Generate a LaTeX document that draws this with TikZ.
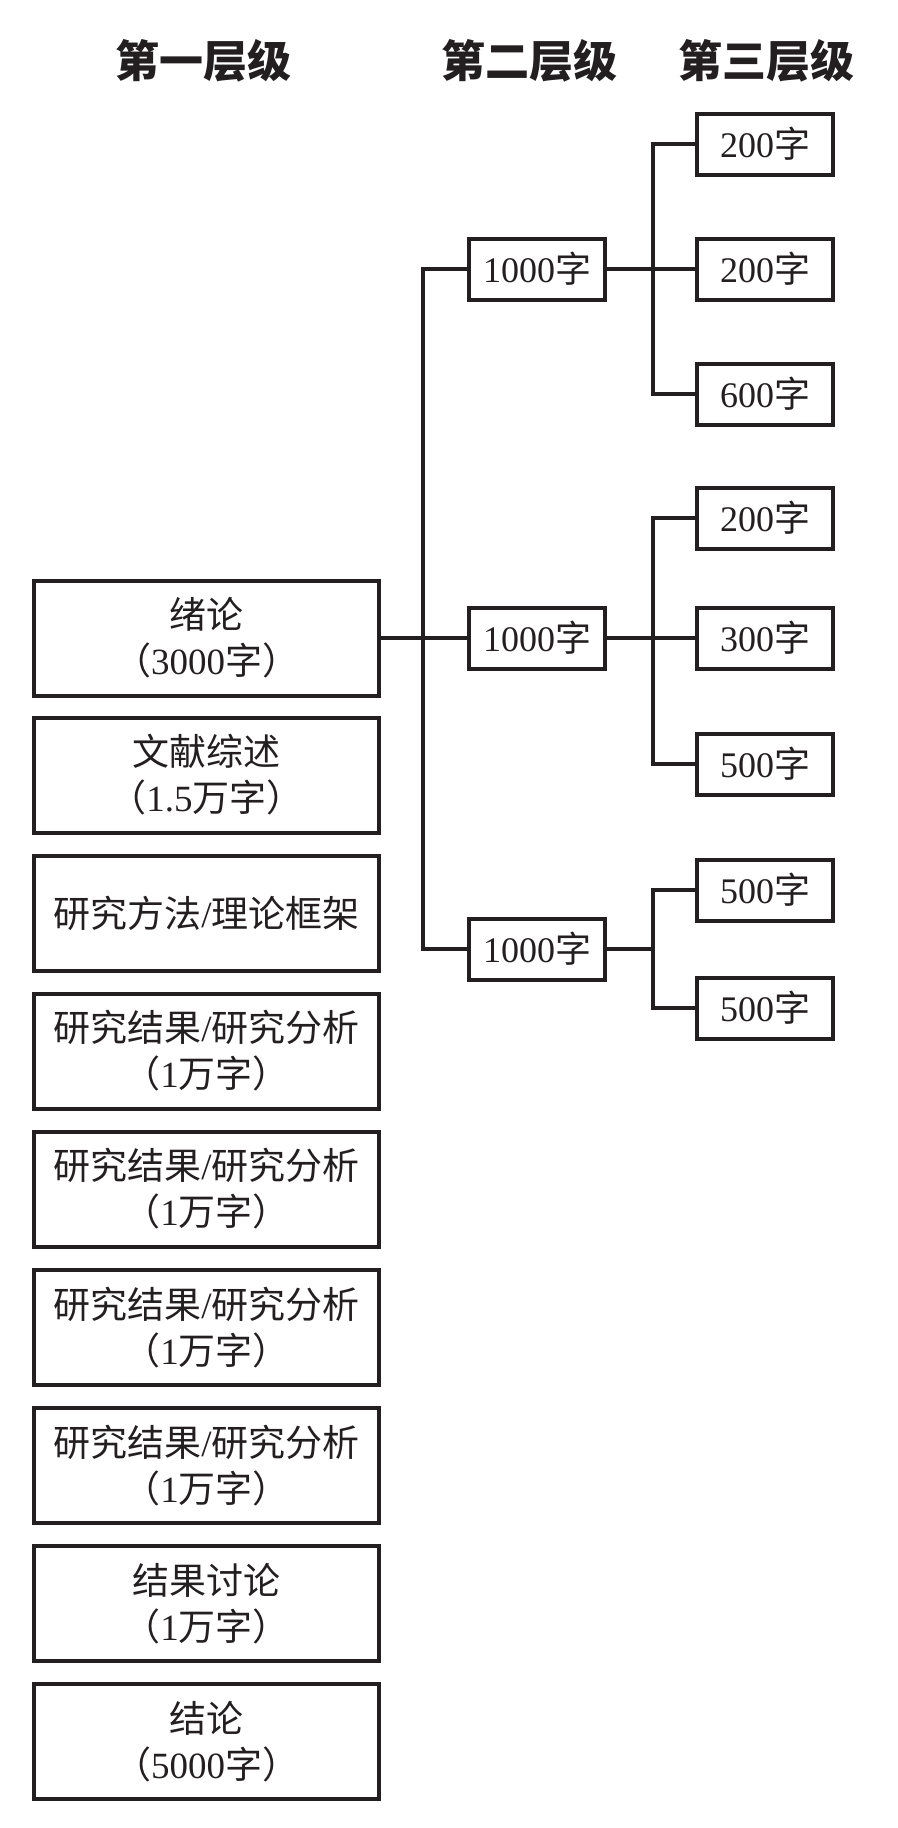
\documentclass[tikz,border=0pt]{standalone}
\usepackage{fontspec}
\setmainfont{Liberation Serif}
\newfontfamily\cjk{Noto Sans CJK SC}
\definecolor{ink}{RGB}{35,31,32}
\begin{document}
\begin{tikzpicture}[x=1pt,y=-1pt,
  lvlone/.style={draw=ink,line width=4pt,inner sep=0pt,minimum width=345pt,minimum height=115pt,align=center,font=\fontsize{37}{46}\selectfont,text=ink},
  lvlsmall/.style={draw=ink,line width=4pt,inner sep=0pt,minimum width=136pt,minimum height=61pt,font=\fontsize{36}{44}\selectfont,text=ink},
  hdr/.style={font=\fontsize{44}{50}\selectfont\cjk\bfseries,text=ink,inner sep=0pt},
  conn/.style={draw=ink,line width=4pt,line join=miter}]
\useasboundingbox (0,0) rectangle (897,1828);
% headers
\node[hdr] (h1) at (203,61) {第一层级};
\node[hdr] (h2) at (529,61) {第二层级};
\node[hdr] (h3) at (766,61) {第三层级};
% level one
\node[lvlone] (a1) at (206.5,638) {{\cjk 绪论}\\{\cjk （}3000{\cjk 字）}};
\node[lvlone] (a2) at (206.5,775) {{\cjk 文献综述}\\{\cjk （}1.5{\cjk 万字）}};
\node[lvlone] (a3) at (206.5,913) {{\cjk 研究方法}/{\cjk 理论框架}};
\node[lvlone] (a4) at (206.5,1051) {{\cjk 研究结果}/{\cjk 研究分析}\\{\cjk （}1{\cjk 万字）}};
\node[lvlone] (a5) at (206.5,1189) {{\cjk 研究结果}/{\cjk 研究分析}\\{\cjk （}1{\cjk 万字）}};
\node[lvlone] (a6) at (206.5,1327.5) {{\cjk 研究结果}/{\cjk 研究分析}\\{\cjk （}1{\cjk 万字）}};
\node[lvlone] (a7) at (206.5,1465.5) {{\cjk 研究结果}/{\cjk 研究分析}\\{\cjk （}1{\cjk 万字）}};
\node[lvlone] (a8) at (206.5,1603.5) {{\cjk 结果讨论}\\{\cjk （}1{\cjk 万字）}};
\node[lvlone] (a9) at (206.5,1741.5) {{\cjk 结论}\\{\cjk （}5000{\cjk 字）}};
% level two
\node[lvlsmall] (m1) at (537,269) {1000{\cjk 字}};
\node[lvlsmall] (m2) at (537,638) {1000{\cjk 字}};
\node[lvlsmall] (m3) at (537,949) {1000{\cjk 字}};
% level three
\node[lvlsmall] (t11) at (765,144) {200{\cjk 字}};
\node[lvlsmall] (t12) at (765,269) {200{\cjk 字}};
\node[lvlsmall] (t13) at (765,394) {600{\cjk 字}};
\node[lvlsmall] (t21) at (765,518) {200{\cjk 字}};
\node[lvlsmall] (t22) at (765,638) {300{\cjk 字}};
\node[lvlsmall] (t23) at (765,764) {500{\cjk 字}};
\node[lvlsmall] (t31) at (765,890) {500{\cjk 字}};
\node[lvlsmall] (t32) at (765,1008) {500{\cjk 字}};
% trunk and branch columns
\coordinate (tx) at (423,0);
\coordinate (bx) at (653,0);
\draw[conn] (m1.west) -- (m1.west -| tx) |- (m3.west);
\draw[conn] (a1.east) -- (m2.west);
\draw[conn] (t11.west) -- (t11.west -| bx) |- (t13.west);
\draw[conn] (m1.east) -- (t12.west);
\draw[conn] (t21.west) -- (t21.west -| bx) |- (t23.west);
\draw[conn] (m2.east) -- (t22.west);
\draw[conn] (t31.west) -- (t31.west -| bx) |- (t32.west);
\draw[conn] (m3.east) -- (m3.east -| bx);
\end{tikzpicture}
\end{document}
